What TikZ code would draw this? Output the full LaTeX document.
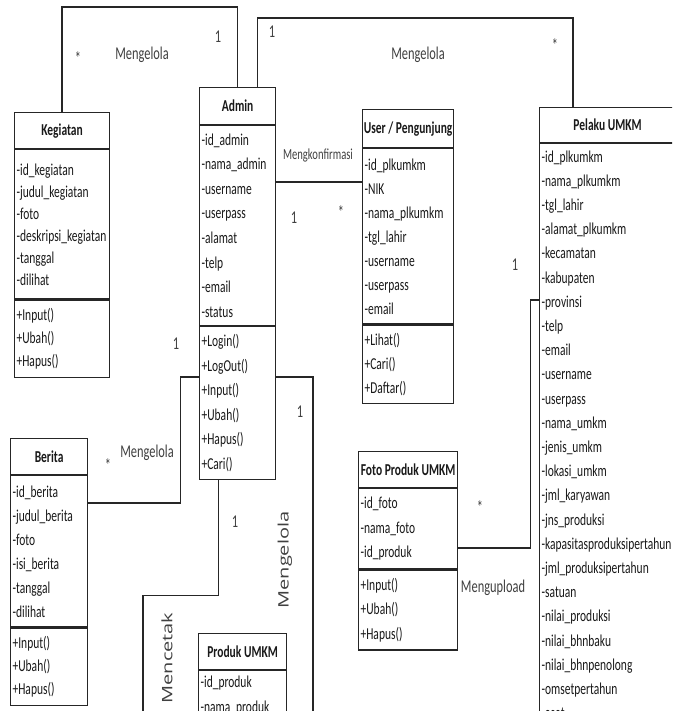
\documentclass[tikz,border=0pt]{standalone}
\usepackage{fontspec}
\usepackage{graphicx}
\usepackage{tikz}
\usetikzlibrary{positioning}
\newfontfamily\umlfont[FakeStretch=0.69]{Carlito}
\newfontfamily\relfont{Open Sans}
\tikzstyle{head} = [rectangle, draw=black!85, line width=0.9pt, text=black!90,
    font=\umlfont\bfseries\fontsize{12.5}{14}\selectfont, align=center, inner sep=0pt, anchor=north west]
\tikzstyle{part} = [rectangle, draw=black!85, line width=0.9pt, text=black!90,
    font=\umlfont\fontsize{12.5}{18.4}\selectfont, align=left, inner xsep=1.5pt, inner ysep=6pt]
\tikzstyle{line} = [draw=black!85, line width=1pt]
\tikzstyle{lbl} = [text=black!75, font=\umlfont\fontsize{13.5}{15}\selectfont, inner sep=0pt]
\tikzstyle{vlbl} = [lbl, rotate=90, font=\relfont\fontsize{15}{17}\selectfont]

\begin{document}
\begin{tikzpicture}[x=0.75pt, y=-0.75pt]
    \useasboundingbox (0,0) rectangle (672,711);
    \clip (0,0) rectangle (672,711);
    \fill [white] (0,0) rectangle (672,711);

    % Classes
    \node [head, minimum width=71.25pt, minimum height=27pt] (kegiatan) at (14,112) {Kegiatan};
    \node [part, below=0pt of kegiatan, text width=68.25pt, minimum height=111.75pt,
        font=\umlfont\fontsize{12.5}{16.5}\selectfont] (kegiatan attr)
        {-id\_kegiatan\\-judul\_kegiatan\\-foto\\-deskripsi\_kegiatan\\-tanggal\\-dilihat};
    \node [part, below=0pt of kegiatan attr, text width=68.25pt, minimum height=57.75pt,
        font=\umlfont\fontsize{12.5}{17.5}\selectfont] (kegiatan meth)
        {+Input()\\+Ubah()\\+Hapus()};

    \node [head, minimum width=57pt, minimum height=27.75pt] (admin) at (199,87) {Admin};
    \node [part, below=0pt of admin, text width=54pt, minimum height=149.25pt] (admin attr)
        {-id\_admin\\-nama\_admin\\-username\\-userpass\\-alamat\\-telp\\-email\\-status};
    \node [part, below=0pt of admin attr, text width=54pt, minimum height=113.25pt] (admin meth)
        {+Login()\\+LogOut()\\+Input()\\+Ubah()\\+Hapus()\\+Cari()};

    \node [head, minimum width=68.25pt, minimum height=28.5pt] (user) at (362,109) {User / Pengunjung};
    \node [part, below=0pt of user, text width=65.25pt, minimum height=131.25pt,
        font=\umlfont\fontsize{12.5}{18}\selectfont] (user attr)
        {-id\_plkumkm\\-NIK\\-nama\_plkumkm\\-tgl\_lahir\\-username\\-userpass\\-email};
    \node [part, below=0pt of user attr, text width=65.25pt, minimum height=57.75pt,
        font=\umlfont\fontsize{12.5}{18}\selectfont] (user meth)
        {+Lihat()\\+Cari()\\+Daftar()};

    \node [head, minimum width=106pt, minimum height=26.25pt] (pelaku) at (539,107) {\hspace*{-4pt}Pelaku UMKM};
    \node [part, below=0pt of pelaku, text width=103pt, inner ysep=5pt,
        font=\umlfont\fontsize{12.5}{18.15}\selectfont] (pelaku attr)
        {-id\_plkumkm\\-nama\_plkumkm\\-tgl\_lahir\\-alamat\_plkumkm\\-kecamatan\\-kabupaten\\-provinsi\\-telp\\-email\\-username\\-userpass\\-nama\_umkm\\-jenis\_umkm\\-lokasi\_umkm\\-jml\_karyawan\\-jns\_produksi\\-kapasitasproduksipertahun\\-jml\_produksipertahun\\-satuan\\-nilai\_produksi\\-nilai\_bhnbaku\\-nilai\_bhnpenolong\\-omsetpertahun\\-aset};

    \node [head, minimum width=74.25pt, minimum height=27pt] (foto) at (358,451) {Foto Produk UMKM};
    \node [part, below=0pt of foto, text width=71.25pt, minimum height=60pt] (foto attr)
        {-id\_foto\\-nama\_foto\\-id\_produk};
    \node [part, below=0pt of foto attr, text width=71.25pt, minimum height=57pt] (foto meth)
        {+Input()\\+Ubah()\\+Hapus()};

    \node [head, minimum width=57.75pt, minimum height=27pt] (berita) at (10,438) {Berita};
    \node [part, below=0pt of berita, text width=54.75pt, minimum height=113.25pt,
        font=\umlfont\fontsize{12.5}{18}\selectfont] (berita attr)
        {-id\_berita\\-judul\_berita\\-foto\\-isi\_berita\\-tanggal\\-dilihat};
    \node [part, below=0pt of berita attr, text width=54.75pt, minimum height=57.75pt,
        font=\umlfont\fontsize{12.5}{17.5}\selectfont] (berita meth)
        {+Input()\\+Ubah()\\+Hapus()};

    \node [head, minimum width=66pt, minimum height=27pt] (produk) at (198,633) {Produk UMKM};
    \node [part, below=0pt of produk, text width=63pt, inner ysep=4pt,
        font=\umlfont\fontsize{12.5}{18.75}\selectfont] (produk attr)
        {-id\_produk\\-nama\_produk};

    \coordinate (cetak end) at (143,725);
    \coordinate (kelola end) at (313,725);

    % Relations
    \path [line] (kegiatan.north) -- ++(0,-105) -| (admin.north);
    \path [line] ([xshift=15pt]admin.north) -- ++(0,-69) -| ([xshift=25.5pt]pelaku.north west);
    \path [line] (admin attr.east |- 0,182) -- (user attr.west |- 0,182);
    \path [line] (foto attr.east |- 0,548) -- ++(72,0) |- (pelaku attr.west |- 0,300);
    \path [line] (berita attr.east |- 0,503) -- ++(92,0) |- (admin meth.west |- 0,377);
    \path [line] ([xshift=-14.25pt]admin meth.south) -- ++(0,115) -| (cetak end);
    \path [line] (admin meth.east |- 0,377) -| (kelola end);

    % Labels
    \node [lbl] (m kegiatan a) at (78,58) {*};
    \node [lbl] (r kegiatan) at (142,55) {Mengelola};
    \node [lbl] (m kegiatan b) at (218,37) {1};
    \node [lbl] (m pelaku a) at (272,32) {1};
    \node [lbl] (r pelaku) at (418,55) {Mengelola};
    \node [lbl] (m pelaku b) at (555,45) {*};
    \node [lbl, font=\umlfont\fontsize{11.5}{13}\selectfont] (r user) at (318,155) {Mengkonfirmasi};
    \node [lbl] (m user a) at (294,218) {1};
    \node [lbl] (m user b) at (341,212) {*};
    \node [lbl] (m foto a) at (515,265) {1};
    \node [lbl] (m foto b) at (480,507) {*};
    \node [lbl] (r foto) at (493,588) {Mengupload};
    \node [lbl] (m berita a) at (108,465) {*};
    \node [lbl] (r berita) at (147,453) {Mengelola};
    \node [lbl] (m berita b) at (176,344) {1};
    \node [lbl] (m cetak) at (235,522) {1};
    \node [vlbl] (r cetak) at (167,658) {\scalebox{1}[0.72]{Mencetak}};
    \node [lbl] (m produk) at (300,412) {1};
    \node [vlbl] (r produk) at (285,560) {\scalebox{1}[0.72]{Mengelola}};
\end{tikzpicture}
\end{document}
